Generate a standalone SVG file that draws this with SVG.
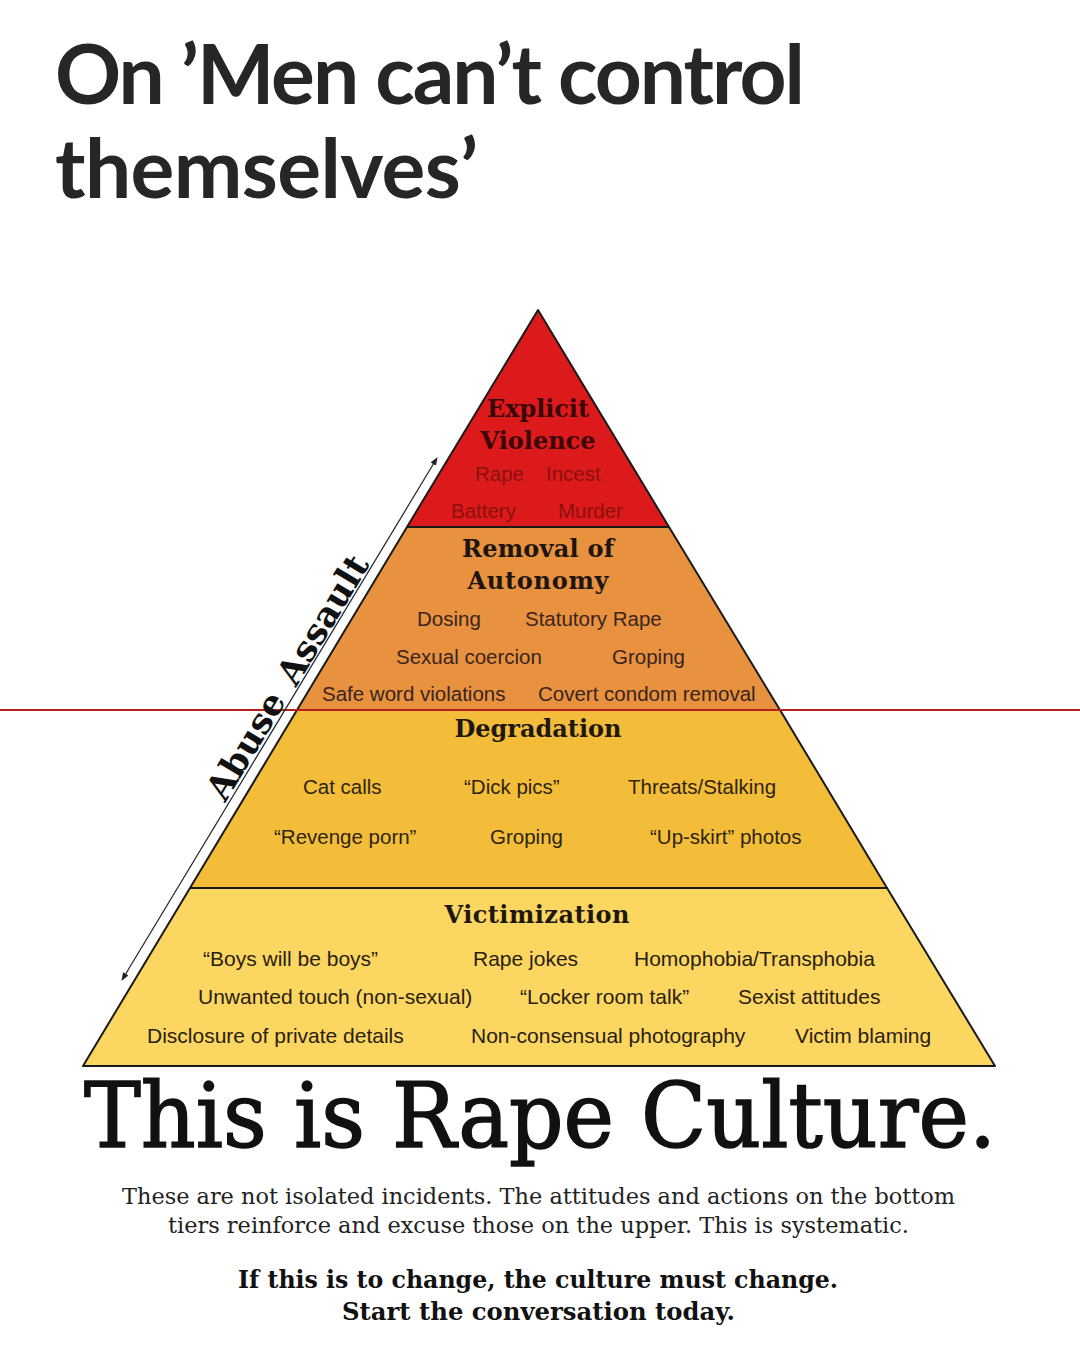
<svg xmlns="http://www.w3.org/2000/svg" width="1080" height="1350" viewBox="0 0 1080 1350">
<defs>
<marker id="ah" viewBox="0 0 10 10" refX="9" refY="5" markerWidth="8" markerHeight="8" orient="auto-start-reverse" markerUnits="userSpaceOnUse">
<path d="M0,1 L10,5 L0,9 Z" fill="#222"/>
</marker>
<style>
.title{font-family:Lato,Roboto,"Liberation Sans",sans-serif;font-weight:700;font-size:82px;fill:#262626}
.hd{font-family:"DejaVu Serif","Liberation Serif",serif;font-weight:700;font-size:24px;text-anchor:middle}
.it{font-family:"Liberation Sans",Arial,sans-serif;font-size:20.5px}
.it2{font-family:"Liberation Sans",Arial,sans-serif;font-size:21px;fill:#2a2010}
.side{font-family:"DejaVu Serif","Liberation Serif",serif;font-weight:700;font-size:35px;fill:#111;text-anchor:middle}
.big{font-family:"DejaVu Serif","Liberation Serif",serif;font-weight:400;font-size:89px;fill:#111;stroke:#111;stroke-width:1.6}
.para{font-family:"DejaVu Serif","Liberation Serif",serif;font-size:23px;fill:#222}
.parab{font-family:"DejaVu Serif","Liberation Serif",serif;font-weight:700;font-size:24px;fill:#111}
.tier{stroke:#1a1a1a;stroke-width:2;stroke-linejoin:round}
</style>
</defs>
<rect width="1080" height="1350" fill="#ffffff"/>

<g id="title">
<text class="title" x="55" y="104" textLength="750">On ’Men can’t control</text>
<text class="title" x="55" y="198" textLength="423">themselves’</text>
</g>

<g id="tier-explicit-violence">
<polygon class="tier" points="538,310 669,527 407,527" fill="#dc1a1c"/>
<text class="hd" x="538" y="417" fill="#3a0808" textLength="102">Explicit</text>
<text class="hd" x="538" y="449" fill="#3a0808" textLength="115">Violence</text>
<g class="it" fill="#8c1010" font-size="19.5">
<text x="475" y="481">Rape</text>
<text x="546" y="481">Incest</text>
<text x="451" y="518">Battery</text>
<text x="558" y="518">Murder</text>
</g>
</g>

<g id="tier-removal-of-autonomy">
<polygon class="tier" points="407,527 669,527 780,710 297,710" fill="#e8913e"/>
<text class="hd" x="538" y="557" fill="#1e1410" textLength="152">Removal of</text>
<text class="hd" x="538" y="589" fill="#1e1410" textLength="141">Autonomy</text>
<g class="it" fill="#3a2420">
<text x="417" y="626">Dosing</text>
<text x="525" y="626">Statutory Rape</text>
<text x="396" y="664">Sexual coercion</text>
<text x="612" y="664">Groping</text>
<text x="322" y="701">Safe word violations</text>
<text x="538" y="701">Covert condom removal</text>
</g>
</g>

<g id="tier-degradation">
<polygon class="tier" points="297,710 780,710 887,888 190,888" fill="#f3bd3a"/>
<text class="hd" x="538" y="737" fill="#1e1810" textLength="167">Degradation</text>
<g class="it" fill="#2e2410">
<text x="303" y="794">Cat calls</text>
<text x="464" y="794">“Dick pics”</text>
<text x="628" y="794">Threats/Stalking</text>
<text x="274" y="844">“Revenge porn”</text>
<text x="490" y="844">Groping</text>
<text x="650" y="844">“Up-skirt” photos</text>
</g>
</g>

<g id="tier-victimization">
<polygon class="tier" points="190,888 887,888 995,1066 83,1066" fill="#fbd660"/>
<text class="hd" x="537" y="923" fill="#1e1810" textLength="185">Victimization</text>
<g class="it2">
<text x="203" y="966">“Boys will be boys”</text>
<text x="473" y="966">Rape jokes</text>
<text x="634" y="966">Homophobia/Transphobia</text>
<text x="198" y="1004">Unwanted touch (non-sexual)</text>
<text x="520" y="1004">“Locker room talk”</text>
<text x="738" y="1004">Sexist attitudes</text>
<text x="147" y="1043">Disclosure of private details</text>
<text x="471" y="1043">Non-consensual photography</text>
<text x="795" y="1043">Victim blaming</text>
</g>
</g>

<g id="connectors">
<line x1="0" y1="710" x2="1080" y2="710" stroke="#b3201c" stroke-width="2"/>
<line x1="122" y1="980" x2="437" y2="458" stroke="#222" stroke-width="1.2" marker-start="url(#ah)" marker-end="url(#ah)"/>
</g>

<g id="side-labels">
<text class="side" transform="translate(333,626) rotate(-59)">Assault</text>
<text class="side" transform="translate(256,752) rotate(-59)">Abuse</text>
</g>

<g id="footer">
<text class="big" x="84" y="1147" textLength="912" lengthAdjust="spacingAndGlyphs">This is Rape Culture.</text>
<text class="para" x="122" y="1204" textLength="833" lengthAdjust="spacingAndGlyphs">These are not isolated incidents. The attitudes and actions on the bottom</text>
<text class="para" x="168" y="1233" textLength="741" lengthAdjust="spacingAndGlyphs">tiers reinforce and excuse those on the upper. This is systematic.</text>
<text class="parab" x="238" y="1288" textLength="600" lengthAdjust="spacingAndGlyphs">If this is to change, the culture must change.</text>
<text class="parab" x="342" y="1320" textLength="393" lengthAdjust="spacingAndGlyphs">Start the conversation today.</text>
</g>
</svg>
